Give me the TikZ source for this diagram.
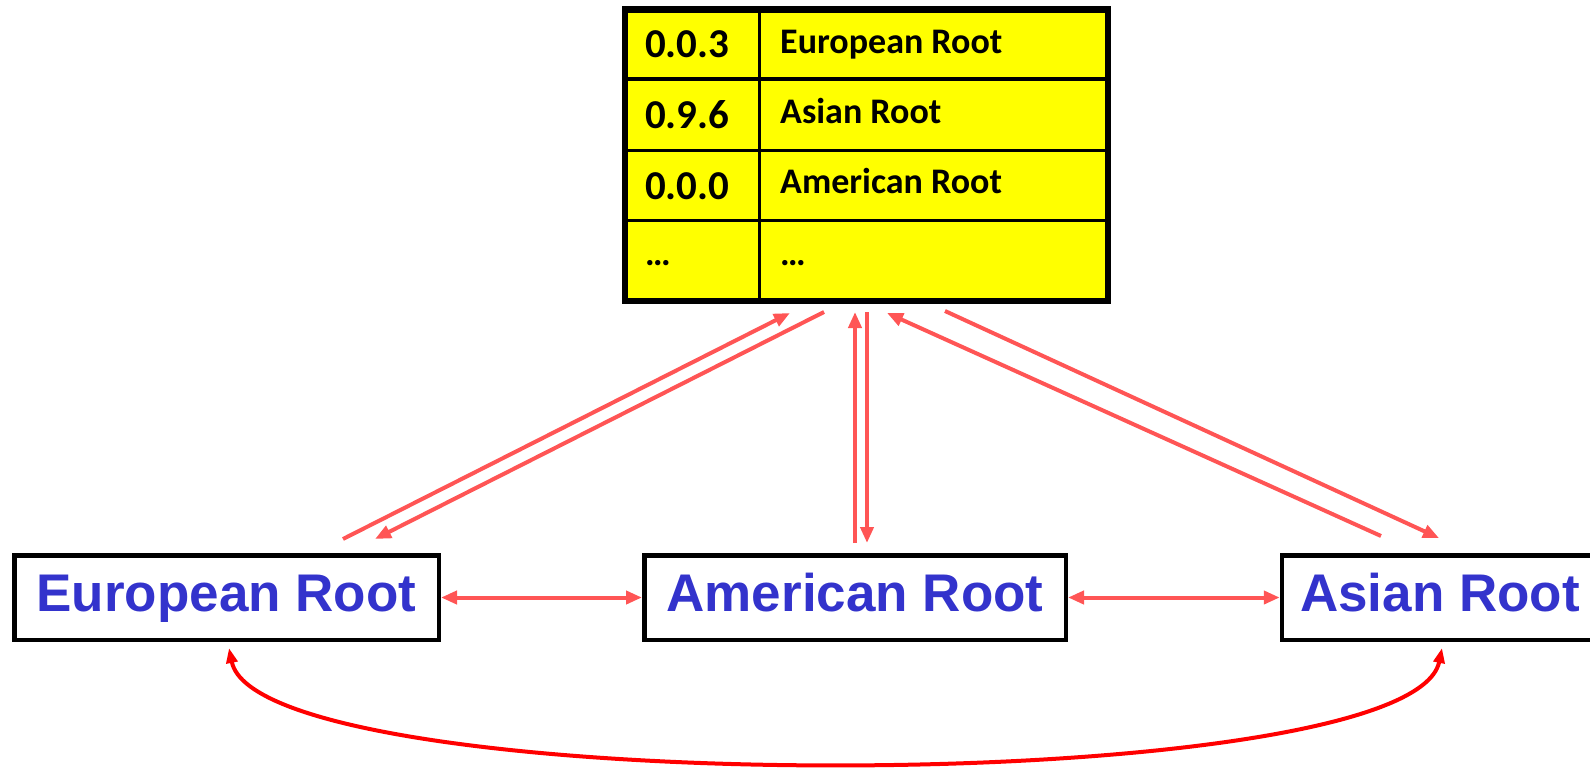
\documentclass[tikz,border=0pt]{standalone}
\usepackage{fontspec}
\setmainfont{Carlito}
\newfontfamily\boxfont{Liberation Sans}
\usetikzlibrary{arrows.meta}
\definecolor{tableyellow}{RGB}{255,255,0}
\definecolor{rootblue}{RGB}{51,51,204}
\definecolor{linkred}{RGB}{255,85,85}
\definecolor{ringred}{RGB}{255,0,0}
\begin{document}
\begin{tikzpicture}[x=1pt,y=-1pt,
  rootbox/.style={draw=black, line width=4.5pt, fill=white, minimum height=84.5pt,
    inner sep=0pt, text height=38pt, text depth=11pt,
    font=\boxfont\bfseries\fontsize{53}{60}\selectfont, text=rootblue},
  cellnum/.style={anchor=base west, inner sep=0pt, font=\bfseries\fontsize{41}{48}\selectfont},
  celltext/.style={anchor=base west, inner sep=0pt, font=\bfseries\fontsize{36}{42}\selectfont},
  tip/.style={-{Triangle[length=16pt,width=13pt]}},
  link/.style={draw=linkred, line width=4pt, tip},
  linkboth/.style={draw=linkred, line width=4pt,
    {Triangle[length=16pt,width=13pt]}-{Triangle[length=16pt,width=13pt]}},
  ring/.style={draw=ringred, line width=4pt,
    {Triangle[length=15pt,width=11pt]}-{Triangle[length=15pt,width=11pt]}}
]
\useasboundingbox (0,0) rectangle (1590,768);

% root name table
\node[draw=black, line width=6.5pt, fill=tableyellow, minimum width=483pt,
      minimum height=291.5pt, inner sep=0pt] (tbl) at (866.5,155.25) {};
\draw[line width=3pt] (759,9.5) -- (759,301);
\foreach \ry in {79,150,220}
  \draw[line width=3pt] (625,\ry) -- (1108,\ry);

\node[cellnum] (n1) at (645,58) {0.0.3};
\node[celltext] (t1) at (780,53) {European Root};
\node[cellnum] (n2) at (645,128) {0.9.6};
\node[celltext] (t2) at (780,123) {Asian Root};
\node[cellnum] (n3) at (645,199) {0.0.0};
\node[celltext] (t3) at (780,193) {American Root};
\node[celltext] (n4) at (645,265) {…};
\node[celltext] (t4) at (780,265) {…};

% root servers
\node[rootbox, minimum width=424.5pt] (eu) at (226.5,597.5) {European Root};
\node[rootbox, minimum width=421.5pt] (am) at (855,597.5) {American Root};
\node[rootbox, minimum width=316pt]   (as) at (1440,597.5) {Asian Root};

% connector end points near the table and the boxes
\coordinate (euUp)   at (343,539);
\coordinate (tbEuIn) at (790,313);
\coordinate (tbEuOut) at (824,312);
\coordinate (euIn)   at (375,539);
\coordinate (amUp)   at (855,543);
\coordinate (tbAmIn) at (855,312);
\coordinate (tbAmOut) at (867,312);
\coordinate (amIn)   at (867,543);
\coordinate (asUp)   at (1381,536);
\coordinate (tbAsIn) at (887,313);
\coordinate (tbAsOut) at (945,311);
\coordinate (asIn)   at (1439,538);
\coordinate (euLow)  at (229,648);
\coordinate (asLow)  at (1442,648);

% exchanges with the table
\draw[link] (euUp) -- (tbEuIn);
\draw[link] (tbEuOut) -- (euIn);
\draw[link] (amUp) -- (tbAmIn);
\draw[link] (tbAmOut) -- (amIn);
\draw[link] (asUp) -- (tbAsIn);
\draw[link] (tbAsOut) -- (asIn);

% links between neighbouring roots
\draw[linkboth] (eu.east) -- (am.west);
\draw[linkboth] (am.east) -- (as.west);

% link between the outer roots
\draw[ring] (euLow) .. controls (260,800) and (1411,800) .. (asLow);
\end{tikzpicture}
\end{document}
